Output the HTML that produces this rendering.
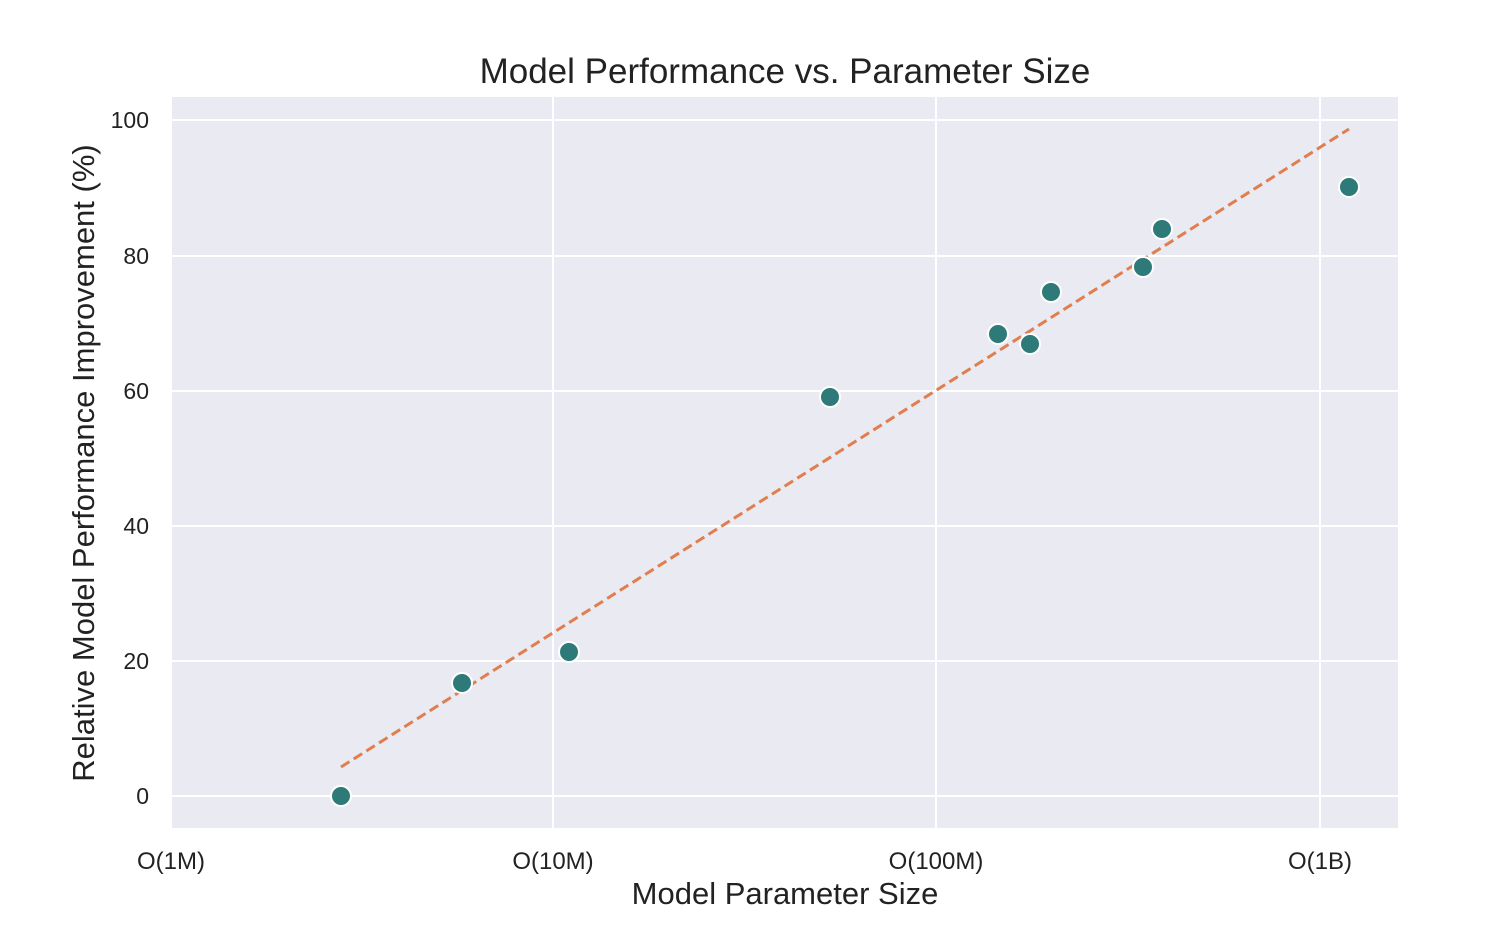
<!DOCTYPE html>
<html><head><meta charset="utf-8"><style>
body{margin:0;background:#fff;}
svg{display:block;font-family:"Liberation Sans",Arial,sans-serif;}
</style></head><body>
<svg width="1488" height="928" viewBox="0 0 1488 928" xmlns="http://www.w3.org/2000/svg">
<rect x="172" y="97" width="1226" height="731" fill="#eaeaf2"/>
<g stroke="#fff" stroke-width="2">
<line x1="553" y1="97" x2="553" y2="828"/>
<line x1="936" y1="97" x2="936" y2="828"/>
<line x1="1320" y1="97" x2="1320" y2="828"/>
<line x1="172" y1="120" x2="1398" y2="120"/>
<line x1="172" y1="256" x2="1398" y2="256"/>
<line x1="172" y1="391" x2="1398" y2="391"/>
<line x1="172" y1="526" x2="1398" y2="526"/>
<line x1="172" y1="661" x2="1398" y2="661"/>
<line x1="172" y1="796" x2="1398" y2="796"/>
</g>
<line x1="341" y1="767" x2="1349" y2="129" stroke="#e07e4e" stroke-width="3" stroke-dasharray="10,5"/>
<g fill="#2e7a78" stroke="#fff" stroke-width="2">
<circle cx="341" cy="796" r="10"/>
<circle cx="462" cy="683" r="10"/>
<circle cx="569" cy="652" r="10"/>
<circle cx="830" cy="397" r="10"/>
<circle cx="998" cy="334" r="10"/>
<circle cx="1030" cy="344" r="10"/>
<circle cx="1051" cy="292" r="10"/>
<circle cx="1143" cy="267" r="10"/>
<circle cx="1162" cy="229" r="10"/>
<circle cx="1349" cy="187" r="10"/>
</g>
<g font-size="23" fill="#222" text-anchor="end">
<text x="149" y="128">100</text>
<text x="149" y="264">80</text>
<text x="149" y="399">60</text>
<text x="149" y="534">40</text>
<text x="149" y="669">20</text>
<text x="149" y="804">0</text>
</g>
<g font-size="24" fill="#222" text-anchor="middle">
<text x="171" y="869">O(1M)</text>
<text x="553" y="869">O(10M)</text>
<text x="936" y="869">O(100M)</text>
<text x="1320" y="869">O(1B)</text>
</g>
<text x="785" y="904" font-size="31" fill="#222" text-anchor="middle">Model Parameter Size</text>
<text x="785" y="83" font-size="35" fill="#222" text-anchor="middle">Model Performance vs. Parameter Size</text>
<text transform="translate(94,463) rotate(-90)" font-size="31" fill="#222" text-anchor="middle">Relative Model Performance Improvement (%)</text>
</svg>
</body></html>
